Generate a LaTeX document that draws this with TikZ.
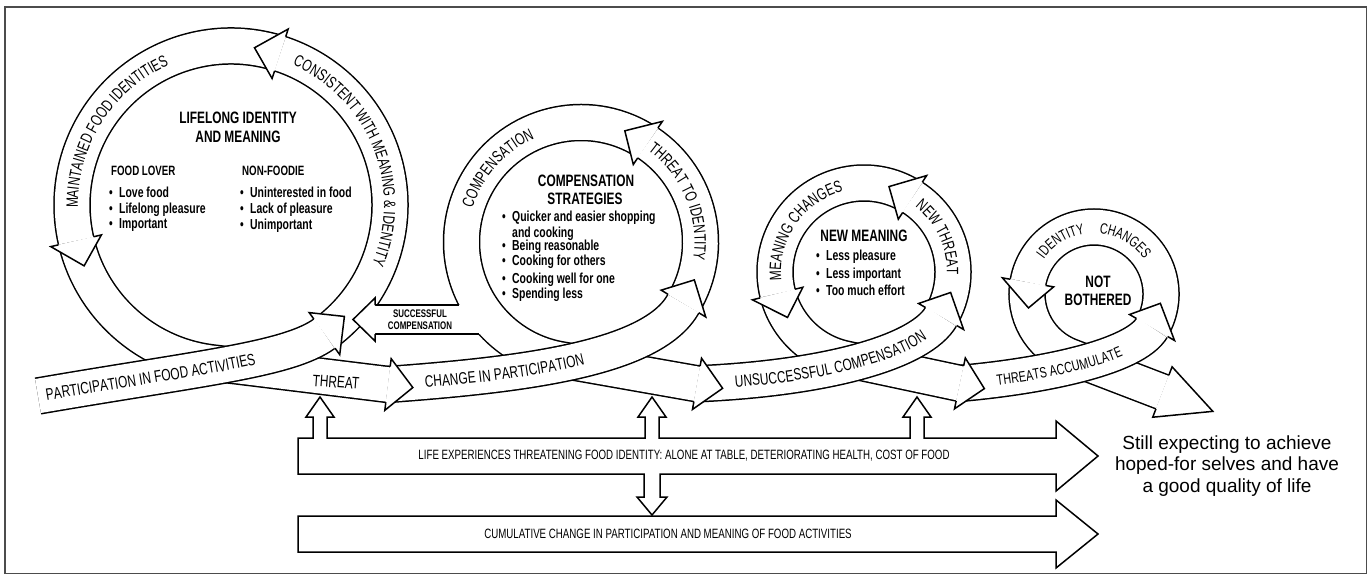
\documentclass[tikz,border=0pt]{standalone}
\usepackage{fontspec}
\newfontfamily\condf{Liberation Sans}[FakeStretch=0.72]
\newfontfamily\plainsans{Liberation Sans}
\usetikzlibrary{decorations.text}
\newcommand\bandfont{\condf\fontsize{16.5}{18}\selectfont}
\newcommand\bandfontS{\condf\fontsize{15}{17}\selectfont}
\tikzset{
 outl/.style={draw=black, line width=1.5pt, line join=miter},
 band/.style={draw=black, line width=1.5pt, double=white, double distance=34.5pt},
 ttl/.style={font=\condf\bfseries\fontsize{16.5}{18}\selectfont, inner sep=0pt, anchor=base},
 sub/.style={font=\condf\bfseries\fontsize{13.5}{15}\selectfont, inner sep=0pt, anchor=base west},
 bul/.style={font=\condf\bfseries\fontsize{14.5}{16}\selectfont, inner sep=0pt, anchor=base west},
 lowtxt/.style={font=\condf\fontsize{13.5}{15}\selectfont, inner sep=0pt},
}
% arc arrow head: center, base angle, tip angle, mid radius
\newcommand\archead[4]{%
  \pgfmathsetmacro\hrO{#4+26}\pgfmathsetmacro\hrI{#4-26}%
  \pgfmathsetmacro\hbO{#4+18}\pgfmathsetmacro\hbI{#4-18}%
  \fill[white] ([shift={(#1)}]#2:\hrO) -- ([shift={(#1)}]#3:#4) -- ([shift={(#1)}]#2:\hrI) -- cycle;
  \draw[outl] ([shift={(#1)}]#2:\hbO) -- ([shift={(#1)}]#2:\hrO) -- ([shift={(#1)}]#3:#4) -- ([shift={(#1)}]#2:\hrI) -- ([shift={(#1)}]#2:\hbI);
}
% straight arrow head: base coordinate, direction, length, wing half width
\newcommand\strhead[4]{%
  \pgfmathsetmacro\hdA{#2+90}\pgfmathsetmacro\hdB{#2-90}%
  \fill[white] ([shift={(#1)}]\hdA:#4) -- ([shift={(#1)}]#2:#3) -- ([shift={(#1)}]\hdB:#4) -- cycle;
  \draw[outl] ([shift={(#1)}]\hdA:18) -- ([shift={(#1)}]\hdA:#4) -- ([shift={(#1)}]#2:#3) -- ([shift={(#1)}]\hdB:#4) -- ([shift={(#1)}]\hdB:18);
}
\newcommand\bl[4]{\node[bul] (#1b) at (#2-10,#3) {•}; \node[bul] (#1) at (#2,#3) {#4};}
\begin{document}
\begin{tikzpicture}[x=1pt,y=-1pt]
\useasboundingbox (0,0) rectangle (1372,579);
\coordinate (C1) at (231,205);
\coordinate (C2) at (581,242);
\coordinate (C3) at (864,272);
\coordinate (C4) at (1094,294);
\coordinate (B3) at (388,384.5);
\coordinate (B6) at (697,383.8);
\coordinate (B10) at (959.9,383.4);
\coordinate (B13) at (1162.4,392);

% ---------- chain, drawn from last to first ----------
% ring 4 exit
\draw[band] ([shift={(C4)}]-170:67) arc[start angle=-170, end angle=-249, radius=67] -- (B13);
\strhead{B13}{21}{54}{27}
% identity changes
\draw[band] ([shift={(C4)}]30:67) arc[start angle=30, end angle=-170, radius=67];
\archead{C4}{-170}{-192}{67}
% threats accumulate
\draw[band] (B10) .. controls (1040,376.4) and (1134.5,357.8) .. ([shift={(C4)}]30:67);
\archead{C4}{30}{8}{67}
% ring 3 bottom
\draw[band] ([shift={(C3)}]-194:89) arc[start angle=-194, end angle=-258, radius=89] -- (B10);
\strhead{B10}{12}{25}{26}
% meaning changes
\draw[band] ([shift={(C3)}]-57:89) arc[start angle=-57, end angle=-194, radius=89];
\archead{C3}{-194}{-210.7}{89}
% new threat
\draw[band] ([shift={(C3)}]30:89) arc[start angle=30, end angle=-57, radius=89];
\archead{C3}{-57}{-73.7}{89}
% unsuccessful compensation
\draw[band] (B6) .. controls (830,378) and (921.1,351.1) .. ([shift={(C3)}]30:89);
\archead{C3}{30}{13.3}{89}
% compensation + ring 2 bottom
\draw[band] ([shift={(C2)}]-56:119.5) arc[start angle=-56, end angle=-260, radius=119.5] -- (B6);
\strhead{B6}{10}{26}{26}
% threat to identity
\draw[band] ([shift={(C2)}]31:119.5) arc[start angle=31, end angle=-56, radius=119.5];
\archead{C2}{-56}{-68.5}{119.5}
% change in participation
\draw[band] (B3) .. controls (517,375) and (652.5,360) .. ([shift={(C2)}]31:119.5);
\archead{C2}{31}{18.5}{119.5}
% ring 1 bottom + threat
\draw[band] ([shift={(C1)}]-193:159) arc[start angle=-193, end angle=-263, radius=159] -- (B3);
\strhead{B3}{7}{25}{26}
% maintained food identities
\draw[band] ([shift={(C1)}]-72:159) arc[start angle=-72, end angle=-193, radius=159];
\archead{C1}{-193}{-202.5}{159}
% consistent with meaning
\draw[band] ([shift={(C1)}]54:159) arc[start angle=54, end angle=-72, radius=159];
\archead{C1}{-72}{-81.5}{159}
% participation in food activities
\draw[band] (38,396) .. controls (200,368) and (288,360) .. ([shift={(C1)}]54:159);
\archead{C1}{54}{44.5}{159}

% successful compensation branch
\fill[white] (372,305) -- (466,305) -- (487,334) -- (372,334) -- cycle;
\draw[outl] (375,305) -- (458.8,305);
\draw[outl] (478.8,334) -- (375,334);
\fill[white] (375,298) -- (353,319.5) -- (375,341) -- cycle;
\draw[outl] (375,305) -- (375,298) -- (353,319.5) -- (375,341) -- (375,334);
\node[font=\condf\bfseries\fontsize{11}{12}\selectfont, inner sep=0pt, anchor=base] (sc1) at (420,317) {SUCCESSFUL};
\node[font=\condf\bfseries\fontsize{11}{12}\selectfont, inner sep=0pt, anchor=base] (sc2) at (420,329) {COMPENSATION};

% ---------- lower arrows ----------
\draw[outl, fill=white] (298,438) -- (313,438) -- (313,417) -- (306,417) -- (320,397) -- (334,417) -- (327,417) -- (327,438)
 -- (645,438) -- (645,417) -- (638,417) -- (652,397) -- (666,417) -- (659,417) -- (659,438)
 -- (910,438) -- (910,417) -- (903,417) -- (917,397) -- (931,417) -- (924,417) -- (924,438)
 -- (1056,438) -- (1056,421) -- (1098,456) -- (1056,491) -- (1056,474)
 -- (660,474) -- (660,497) -- (667,497) -- (652,515) -- (637,497) -- (644,497) -- (644,474)
 -- (298,474) -- cycle;
\draw[outl, fill=white] (298,516) -- (1056,516) -- (1056,500) -- (1098,534) -- (1056,568) -- (1056,552) -- (298,552) -- cycle;
\node[lowtxt] (life) at (684,456) {LIFE EXPERIENCES THREATENING FOOD IDENTITY: ALONE AT TABLE, DETERIORATING HEALTH, COST OF FOOD};
\node[lowtxt] (cum) at (668,534) {CUMULATIVE CHANGE IN PARTICIPATION AND MEANING OF FOOD ACTIVITIES};
\node[font=\plainsans\fontsize{19}{21.5}\selectfont, align=center, inner sep=0pt] (goal) at (1227,466) {Still expecting to achieve\\hoped-for selves and have\\a good quality of life};

% ---------- labels on the bands ----------
\path[decorate, decoration={text along path, raise=-6pt, text align={left, left indent=8pt}, text={|\bandfont|PARTICIPATION IN FOOD ACTIVITIES}}] (38,396) .. controls (200,368) and (288,360) .. ([shift={(C1)}]54:159);
\path[decorate, decoration={text along path, raise=-6pt, text align={left, left indent=37pt}, text={|\bandfont|CHANGE IN PARTICIPATION}}] (B3) .. controls (517,375) and (652.5,360) .. ([shift={(C2)}]31:119.5);
\path[decorate, decoration={text along path, raise=-6pt, text align={left, left indent=38pt}, text={|\bandfont|UNSUCCESSFUL COMPENSATION}}] (B6) .. controls (830,378) and (921.1,351.1) .. ([shift={(C3)}]30:89);
\path[decorate, decoration={text along path, raise=-6pt, text align={left, left indent=37pt}, text={|\bandfontS|THREATS ACCUMULATE}}] (B10) .. controls (1040,376.4) and (1134.5,357.8) .. ([shift={(C4)}]30:67);
\node[font=\bandfont, inner sep=0pt, rotate=-4] (thr) at (336,382) {THREAT};

\path[decorate, decoration={text along path, text align=center, text={|\bandfont|MAINTAINED FOOD IDENTITIES}}] ([shift={(C1)}]157.5:153) arc[start angle=157.5, end angle=267.5, radius=153];
\path[decorate, decoration={text along path, text align=center, text={|\bandfont|CONSISTENT WITH MEANING {\&} IDENTITY}}] ([shift={(C1)}]-81.75:153) arc[start angle=-81.75, end angle=38.25, radius=153];
\path[decorate, decoration={text along path, text align=center, text={|\bandfont|COMPENSATION}}] ([shift={(C2)}]181.5:113.5) arc[start angle=181.5, end angle=261.5, radius=113.5];
\path[decorate, decoration={text along path, text align=center, text={|\bandfont|THREAT TO IDENTITY}}] ([shift={(C2)}]-62.5:113.5) arc[start angle=-62.5, end angle=17.5, radius=113.5];
\path[decorate, decoration={text along path, text align=center, text={|\bandfont|MEANING CHANGES}}] ([shift={(C3)}]165:83) arc[start angle=165, end angle=265, radius=83];
\path[decorate, decoration={text along path, text align=center, text={|\bandfont|NEW THREAT}}] ([shift={(C3)}]-65:83) arc[start angle=-65, end angle=15, radius=83];
\path[decorate, decoration={text along path, text align=center, text={|\bandfontS|IDENTITY}}] ([shift={(C4)}]203:61) arc[start angle=203, end angle=273, radius=61];
\path[decorate, decoration={text along path, text align=center, text={|\bandfontS|CHANGES}}] ([shift={(C4)}]265:61) arc[start angle=265, end angle=335, radius=61];

% ---------- texts inside circles ----------
\node[ttl] (t1a) at (238,123) {LIFELONG IDENTITY};
\node[ttl] (t1b) at (238,142) {AND MEANING};
\node[sub] (fl) at (111,175) {FOOD LOVER};
\node[sub] (nf) at (242,175) {NON-FOODIE};
\bl{b11}{119}{197}{Love food}
\bl{b12}{119}{213}{Lifelong pleasure}
\bl{b13}{119}{228}{Important}
\bl{b14}{250}{197}{Uninterested in food}
\bl{b15}{250}{213}{Lack of pleasure}
\bl{b16}{250}{229}{Unimportant}

\node[ttl] (t2a) at (586,186) {COMPENSATION};
\node[ttl] (t2b) at (585,204) {STRATEGIES};
\bl{b21}{512}{221}{Quicker and easier shopping}
\node[bul] (b21x) at (512,237) {and cooking};
\bl{b22}{512}{250}{Being reasonable}
\bl{b23}{512}{265}{Cooking for others}
\bl{b24}{512}{283}{Cooking well for one}
\bl{b25}{512}{298}{Spending less}

\node[ttl] (t3) at (864,241) {NEW MEANING};
\bl{b31}{826}{260}{Less pleasure}
\bl{b32}{826}{278}{Less important}
\bl{b33}{826}{295}{Too much effort}

\node[ttl] (t4a) at (1098,287) {NOT};
\node[ttl] (t4b) at (1098,305) {BOTHERED};

% frame
\draw[black!70, line width=1.5pt] (5,7) rectangle (1366.5,573.5);
\end{tikzpicture}
\end{document}
